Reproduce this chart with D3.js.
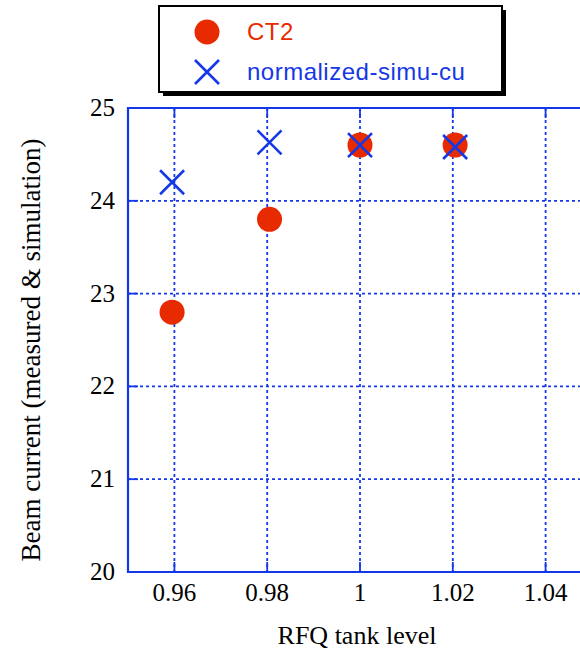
<!DOCTYPE html>
<html>
<head>
<meta charset="utf-8">
<script src="https://cdn.jsdelivr.net/npm/d3@7"></script>
<style>
  body { margin: 0; background: #fff; }
  svg { display: block; }
</style>
</head>
<body>
<script>
// measured beam current (CT2) and normalized simulation vs RFQ tank level
var ct2Level = [0.9595, 0.9805, 1.0, 1.0205];
var ct2Current = [22.8, 23.8, 24.6, 24.6];
var simuLevel = [0.9595, 0.9805, 1.0, 1.0205];
var simuCurrent = [24.2, 24.63, 24.6, 24.58];
var xTicks = [0.96, 0.98, 1, 1.02, 1.04];
var yTicks = [20, 21, 22, 23, 24, 25];
var seriesNames = ['CT2', 'normalized-simu-cu'];

var W = 580, H = 649;
var plotLeft = 128, plotTop = 108, plotBottom = 572;
var blue = '#1538e6', red = '#e82a00';
var serif = '"Liberation Serif", "Times New Roman", serif';

var svg = d3.select('body').append('svg')
  .attr('width', W)
  .attr('height', H);

var x = d3.scaleLinear().domain([0.95, 1.05]).range([plotLeft, plotLeft + 464]);
var y = d3.scaleLinear().domain([20, 25]).range([plotBottom, plotTop]);

// grid lines
svg.append('g').selectAll('line')
  .data(xTicks)
  .enter().append('line')
  .attr('x1', function(d) { return x(d); })
  .attr('x2', function(d) { return x(d); })
  .attr('y1', plotTop)
  .attr('y2', plotBottom)
  .attr('stroke', blue)
  .attr('stroke-width', 1.8)
  .attr('stroke-dasharray', '3,3');

svg.append('g').selectAll('line')
  .data(yTicks.filter(function(d) { return d > 20 && d < 25; }))
  .enter().append('line')
  .attr('x1', plotLeft)
  .attr('x2', W)
  .attr('y1', function(d) { return y(d); })
  .attr('y2', function(d) { return y(d); })
  .attr('stroke', blue)
  .attr('stroke-width', 1.8)
  .attr('stroke-dasharray', '3,3');

// short solid ticks on the edges
svg.append('g').selectAll('line')
  .data(xTicks)
  .enter().append('line')
  .attr('x1', function(d) { return x(d); })
  .attr('x2', function(d) { return x(d); })
  .attr('y1', plotTop)
  .attr('y2', plotTop + 10)
  .attr('stroke', blue)
  .attr('stroke-width', 1.8);
svg.append('g').selectAll('line')
  .data(xTicks)
  .enter().append('line')
  .attr('x1', function(d) { return x(d); })
  .attr('x2', function(d) { return x(d); })
  .attr('y1', plotBottom)
  .attr('y2', plotBottom - 10)
  .attr('stroke', blue)
  .attr('stroke-width', 1.8);
svg.append('g').selectAll('line')
  .data(yTicks)
  .enter().append('line')
  .attr('x1', plotLeft)
  .attr('x2', plotLeft + 10)
  .attr('y1', function(d) { return y(d); })
  .attr('y2', function(d) { return y(d); })
  .attr('stroke', blue)
  .attr('stroke-width', 1.8);

// frame
svg.append('path')
  .attr('d', 'M' + W + ',' + plotTop + 'H' + plotLeft + 'V' + plotBottom + 'H' + W)
  .attr('fill', 'none')
  .attr('stroke', blue)
  .attr('stroke-width', 2.2);

// tick labels
svg.append('g').selectAll('text')
  .data(xTicks)
  .enter().append('text')
  .attr('x', function(d) { return x(d); })
  .attr('y', plotBottom + 29)
  .attr('text-anchor', 'middle')
  .style('font-family', serif)
  .style('font-size', '25px')
  .text(function(d) { return d; });

svg.append('g').selectAll('text')
  .data(yTicks)
  .enter().append('text')
  .attr('x', plotLeft - 13)
  .attr('y', function(d) { return y(d) + 8; })
  .attr('text-anchor', 'end')
  .style('font-family', serif)
  .style('font-size', '25px')
  .text(function(d) { return d; });

// axis titles
svg.append('text')
  .attr('x', 357)
  .attr('y', 644)
  .attr('text-anchor', 'middle')
  .style('font-family', serif)
  .style('font-size', '26px')
  .text('RFQ tank level');

svg.append('text')
  .attr('transform', 'translate(40,350) rotate(-90)')
  .attr('text-anchor', 'middle')
  .style('font-family', serif)
  .style('font-size', '27px')
  .text('Beam current (measured & simulation)');

// markers
function cross(g, size) {
  g.append('path')
    .attr('d', 'M' + (-size) + ',' + (-size) + 'L' + size + ',' + size +
      'M' + (-size) + ',' + size + 'L' + size + ',' + (-size))
    .attr('stroke', blue)
    .attr('stroke-width', 2.6)
    .attr('fill', 'none');
}

svg.append('g').selectAll('circle')
  .data(d3.zip(ct2Level, ct2Current))
  .enter().append('circle')
  .attr('cx', function(d) { return x(d[0]); })
  .attr('cy', function(d) { return y(d[1]); })
  .attr('r', 12.5)
  .attr('fill', red);

svg.append('g').selectAll('g')
  .data(d3.zip(simuLevel, simuCurrent))
  .enter().append('g')
  .attr('transform', function(d) { return 'translate(' + x(d[0]) + ',' + y(d[1]) + ')'; })
  .each(function() { cross(d3.select(this), 12); });

// legend
var lg = svg.append('g');
lg.append('rect')
  .attr('x', 163).attr('y', 10)
  .attr('width', 343).attr('height', 86)
  .attr('fill', '#000');
lg.append('rect')
  .attr('x', 159).attr('y', 6)
  .attr('width', 343).attr('height', 86)
  .attr('fill', '#fff')
  .attr('stroke', '#000')
  .attr('stroke-width', 2);

lg.append('circle')
  .attr('cx', 207).attr('cy', 32)
  .attr('r', 12.5)
  .attr('fill', red);
cross(lg.append('g').attr('transform', 'translate(207,72)'), 12);

lg.selectAll('text')
  .data(seriesNames)
  .enter().append('text')
  .attr('x', 247)
  .attr('y', function(d, i) { return 40 + i * 40; })
  .attr('fill', function(d, i) { return i === 0 ? red : blue; })
  .style('font-family', '"Liberation Sans", Arial, sans-serif')
  .style('font-size', '24px')
  .style('letter-spacing', '0.5px')
  .text(function(d) { return d; });
</script>
</body>
</html>
